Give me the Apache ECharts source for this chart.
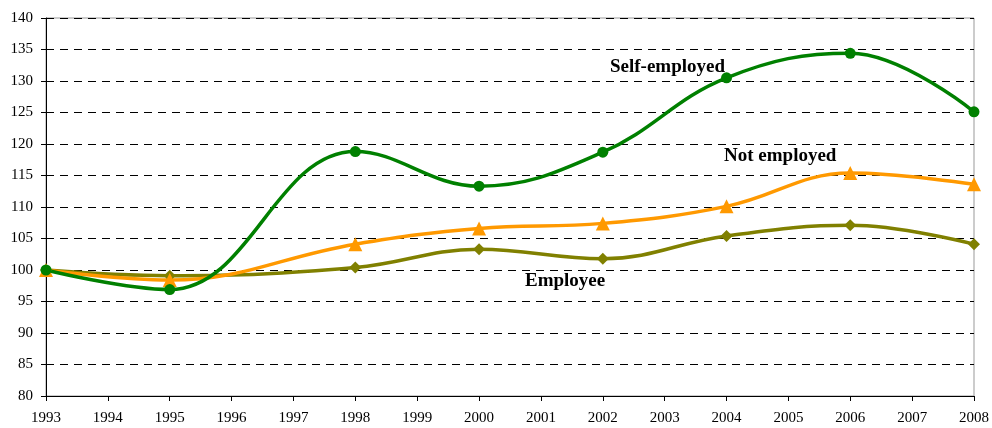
<!DOCTYPE html>
<html>
<head>
<meta charset="utf-8">
<script src="https://cdn.jsdelivr.net/npm/echarts@6/dist/echarts.min.js"></script>
<style>
  html, body { margin: 0; padding: 0; background: #fff; }
  #chart { width: 992px; height: 428px; }
</style>
</head>
<body>
<div id="chart"></div>
<script>
const years = [1993, 1995, 1998, 2000, 2002, 2004, 2006, 2008];
const selfEmployed = [100, 96.9, 118.8, 113.3, 118.7, 130.5, 134.4, 125.1];
const notEmployed = [100, 98.4, 104.1, 106.6, 107.4, 110.1, 115.4, 113.6];
const employee = [100, 99.1, 100.4, 103.3, 101.8, 105.4, 107.1, 104.1];

const pairs = vals => years.map((y, i) => [y, vals[i]]);

const chart = echarts.init(document.getElementById('chart'));
const font = '"Liberation Serif", "DejaVu Serif", serif';

function line(name, vals, color, symbol, size) {
  return {
    name,
    type: 'line',
    data: pairs(vals),
    smooth: 0.4,
    symbol,
    symbolSize: size,
    lineStyle: { color, width: 3.5 },
    itemStyle: { color },
    z: 3
  };
}

chart.setOption({
  animation: false,
  grid: {
    left: 46, right: 16, top: 18, bottom: 32,
    show: true, borderColor: '#999', borderWidth: 1
  },
  xAxis: {
    type: 'value',
    min: 1993, max: 2008, interval: 1,
    axisLine: { lineStyle: { color: '#000', width: 1 } },
    axisTick: { show: true, length: 5, lineStyle: { color: '#000' } },
    axisLabel: { color: '#000', fontFamily: font, fontSize: 15, margin: 15, formatter: v => String(v) },
    splitLine: { show: false }
  },
  yAxis: {
    type: 'value',
    min: 80, max: 140, interval: 5,
    axisLine: { show: true, lineStyle: { color: '#000', width: 1 } },
    axisTick: { show: true, length: 5, lineStyle: { color: '#000' } },
    axisLabel: { color: '#000', fontFamily: font, fontSize: 15, margin: 13 },
    splitLine: { show: true, lineStyle: { color: '#000', type: [8, 6], width: 1 } }
  },
  series: [
    line('Employee', employee, '#808000', 'diamond', 12),
    line('Not employed', notEmployed, '#FF9900', 'triangle', 14),
    line('Self-employed', selfEmployed, '#008000', 'circle', 11)
  ],
  graphic: [
    { type: 'text', x: 610, y: 67, style: { text: 'Self-employed', font: 'bold 19px ' + font, fill: '#000', verticalAlign: 'middle' } },
    { type: 'text', x: 724, y: 156, style: { text: 'Not employed', font: 'bold 19px ' + font, fill: '#000', verticalAlign: 'middle' } },
    { type: 'text', x: 525, y: 281, style: { text: 'Employee', font: 'bold 19px ' + font, fill: '#000', verticalAlign: 'middle' } }
  ]
});
</script>
</body>
</html>
